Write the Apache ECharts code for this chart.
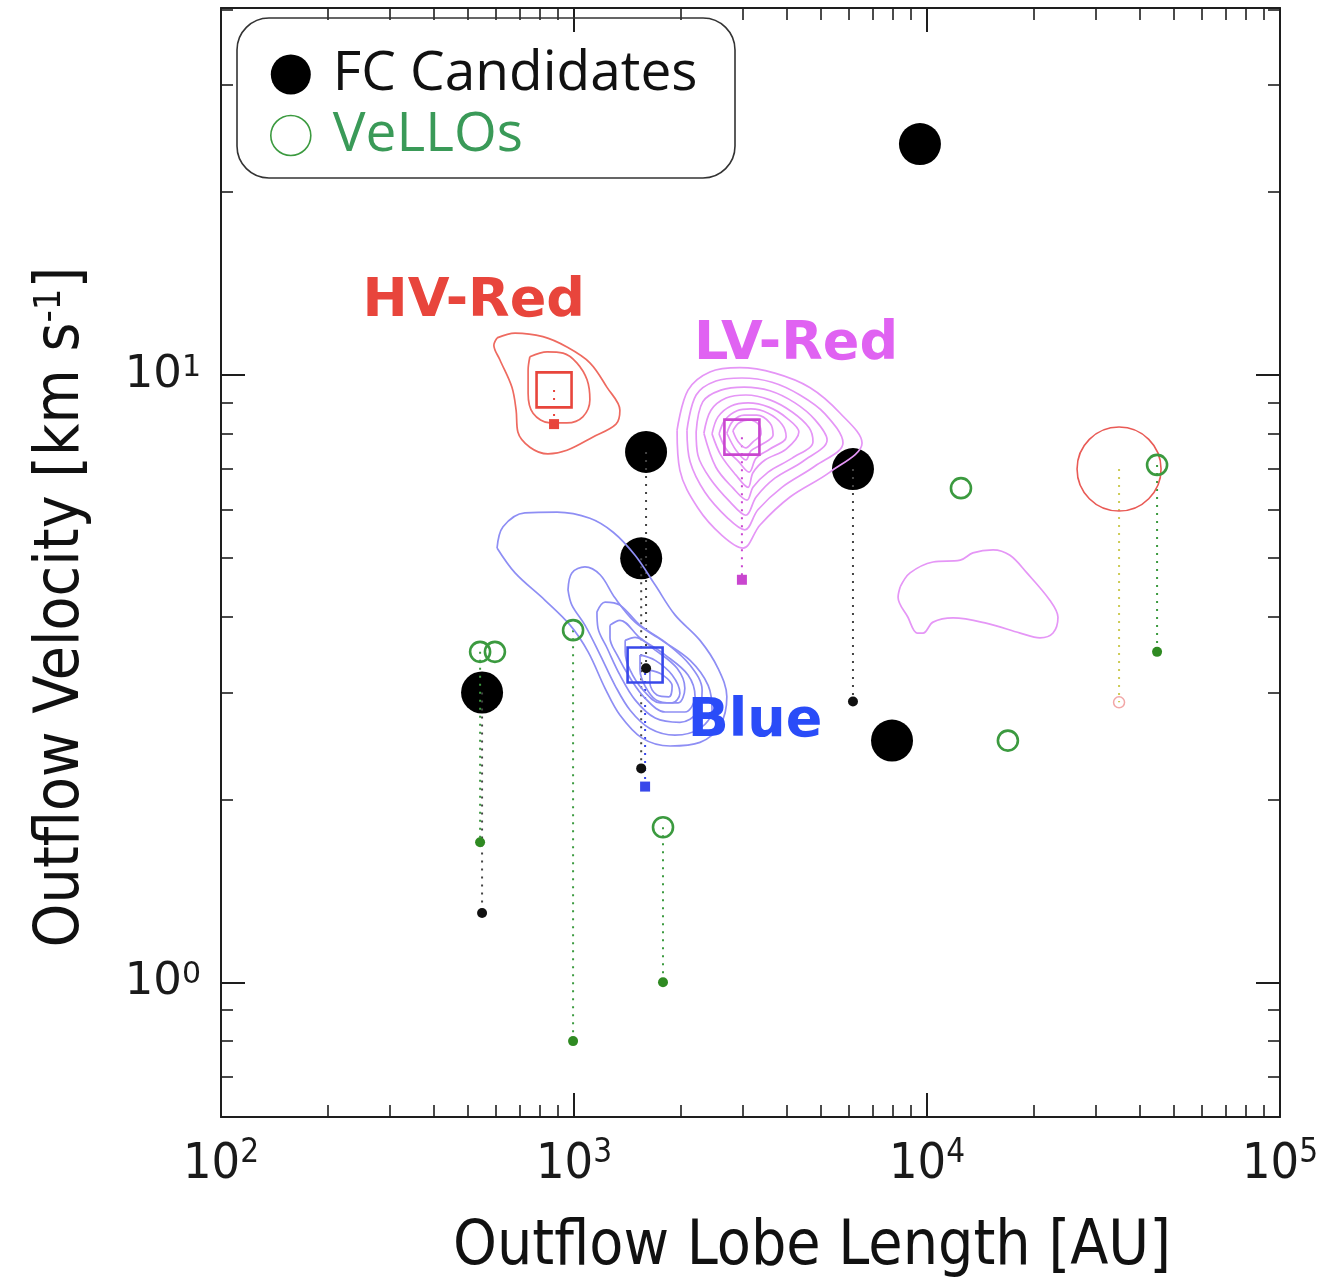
<!DOCTYPE html>
<html>
<head>
<meta charset="utf-8">
<script src="https://cdn.jsdelivr.net/npm/echarts@6/dist/echarts.min.js"></script>
<style>
html,body{margin:0;padding:0;background:#fff;}
#chart{width:1322px;height:1284px;}
</style>
</head>
<body>
<div id="chart"></div>
<script>
// ---------------- DATA ----------------
const xMajorTicks = [100, 1000, 10000, 100000];
const xMinorTicks = [200,300,400,500,600,700,800,900,2000,3000,4000,5000,6000,7000,8000,9000,20000,30000,40000,50000,60000,70000,80000,90000];
const yMajorTicks = [1, 10];
const yMinorTicks = [0.6,0.7,0.8,0.9,2,3,4,5,6,7,8,9,20,30,40];

// FC candidates (big filled black circles)
const fcAU  = [9550, 1600, 6170, 1550, 549, 7960];
const fcVel = [24.0, 7.47, 7.0, 4.99, 3.0, 2.5];
// FC drop lines (dotted black) and their lower values (small black dots)
const fcDropAU   = [549, 1600, 1550, 6170];
const fcDropFrom = [3.0, 7.47, 4.99, 7.0];
const fcDropTo   = [1.30, 3.29, 2.25, 2.90];

// VeLLOs (open green circles)
const vAU  = [542, 597, 994, 1787, 12480, 44850, 16950];
const vVel = [3.5, 3.5, 3.8, 1.8, 6.51, 7.11, 2.5];
// VeLLO drop lines (dotted green) and lower values (small green dots)
const vDropAU   = [542, 994, 1787, 44850];
const vDropFrom = [3.5, 3.8, 1.8, 7.11];
const vDropTo   = [1.70, 0.80, 1.0, 3.5];

// large red open circle with its drop to a small pink circle
const bigRedAU = [35000];
const bigRedVel = [7.0];
const bigRedLow = [2.89];

// outflow components (open squares) and their lower values (small squares)
const compNames = ['HV-Red', 'LV-Red', 'Blue'];
const compAU    = [878, 2990, 1590];
const compVel   = [9.45, 7.9, 3.33];
const compLow   = [8.3, 4.6, 2.10];
const compLabelAU  = [520, 4255, 3258];
const compLabelVel = [13.2, 11.2, 2.68];

// contours, as [log10(AU), log10(km/s)] pairs
const hvRedContoursLog = [
  [[2.782,1.061],[2.833,1.069],[2.912,1.063],[2.980,1.046],[3.045,1.020],[3.093,0.980],[3.130,0.942],[3.119,0.919],[3.054,0.898],[2.980,0.876],[2.926,0.870],[2.875,0.881],[2.841,0.906],[2.836,0.942],[2.824,0.980],[2.790,1.025],[2.773,1.049]],
  [[2.875,1.030],[2.924,1.038],[2.969,1.036],[3.008,1.020],[3.037,0.992],[3.045,0.959],[3.025,0.931],[2.980,0.921],[2.932,0.921],[2.884,0.937],[2.870,0.970],[2.870,1.008]]
];
const lvRedContoursLog = [
  [[3.292,0.909],[3.323,0.975],[3.385,1.005],[3.470,1.012],[3.569,1.003],[3.669,0.979],[3.754,0.937],[3.816,0.888],[3.725,0.840],[3.612,0.799],[3.527,0.753],[3.479,0.715],[3.419,0.736],[3.351,0.781],[3.300,0.843]],
  [[3.320,0.909],[3.346,0.967],[3.402,0.990],[3.476,0.995],[3.561,0.988],[3.640,0.967],[3.711,0.936],[3.762,0.888],[3.683,0.850],[3.589,0.815],[3.521,0.778],[3.484,0.745],[3.436,0.764],[3.371,0.807],[3.329,0.857]],
  [[3.346,0.906],[3.365,0.956],[3.416,0.975],[3.482,0.980],[3.555,0.974],[3.626,0.954],[3.683,0.926],[3.717,0.893],[3.649,0.858],[3.569,0.830],[3.516,0.799],[3.487,0.769],[3.442,0.791],[3.385,0.830],[3.351,0.868]],
  [[3.368,0.904],[3.388,0.942],[3.431,0.962],[3.487,0.967],[3.555,0.959],[3.618,0.939],[3.666,0.913],[3.677,0.890],[3.618,0.863],[3.550,0.840],[3.507,0.815],[3.490,0.794],[3.450,0.814],[3.402,0.848]],
  [[3.391,0.903],[3.408,0.931],[3.445,0.949],[3.493,0.954],[3.552,0.947],[3.603,0.929],[3.637,0.906],[3.601,0.878],[3.541,0.860],[3.507,0.839],[3.493,0.815],[3.459,0.835],[3.416,0.868]],
  [[3.411,0.903],[3.428,0.926],[3.462,0.941],[3.501,0.944],[3.550,0.937],[3.589,0.919],[3.601,0.898],[3.555,0.878],[3.516,0.863],[3.496,0.840],[3.465,0.858],[3.431,0.878]],
  [[3.433,0.904],[3.450,0.924],[3.482,0.934],[3.518,0.934],[3.555,0.921],[3.564,0.901],[3.530,0.885],[3.501,0.875],[3.487,0.860],[3.459,0.876]],
  [[3.450,0.908],[3.467,0.921],[3.496,0.926],[3.524,0.918],[3.530,0.903],[3.507,0.890],[3.487,0.880],[3.465,0.890]],
  [[3.924,0.651],[3.952,0.674],[4.017,0.692],[4.094,0.695],[4.130,0.707],[4.187,0.712],[4.235,0.703],[4.283,0.674],[4.348,0.629],[4.371,0.601],[4.357,0.575],[4.320,0.567],[4.264,0.575],[4.170,0.591],[4.074,0.600],[4.017,0.593],[3.989,0.575],[3.972,0.575],[3.946,0.601],[3.918,0.634]]
];
const blueContoursLog = [
  [[2.782,0.715],[2.799,0.750],[2.861,0.773],[2.952,0.774],[3.045,0.764],[3.111,0.741],[3.173,0.703],[3.230,0.654],[3.286,0.605],[3.357,0.563],[3.408,0.517],[3.433,0.470],[3.414,0.423],[3.357,0.395],[3.272,0.389],[3.193,0.402],[3.130,0.440],[3.088,0.484],[3.040,0.544],[2.989,0.588],[2.918,0.629],[2.833,0.674]],
  [[2.983,0.646],[2.994,0.674],[3.031,0.684],[3.074,0.671],[3.116,0.633],[3.173,0.593],[3.249,0.563],[3.329,0.530],[3.380,0.489],[3.391,0.448],[3.357,0.418],[3.286,0.407],[3.215,0.418],[3.159,0.448],[3.116,0.489],[3.074,0.539],[3.031,0.588],[2.994,0.621]],
  [[3.065,0.610],[3.088,0.626],[3.130,0.621],[3.187,0.588],[3.258,0.560],[3.329,0.522],[3.363,0.481],[3.351,0.445],[3.300,0.428],[3.230,0.435],[3.173,0.465],[3.130,0.506],[3.094,0.550],[3.068,0.583]],
  [[3.102,0.588],[3.130,0.596],[3.187,0.567],[3.258,0.539],[3.323,0.506],[3.343,0.470],[3.314,0.445],[3.258,0.445],[3.201,0.468],[3.159,0.501],[3.122,0.539],[3.102,0.567]],
  [[3.145,0.563],[3.173,0.568],[3.230,0.547],[3.292,0.517],[3.314,0.484],[3.295,0.460],[3.244,0.460],[3.196,0.481],[3.159,0.514],[3.145,0.544]],
  [[3.187,0.539],[3.230,0.530],[3.278,0.506],[3.300,0.476],[3.278,0.460],[3.232,0.465],[3.201,0.488],[3.187,0.514]],
  [[3.215,0.514],[3.249,0.507],[3.278,0.488],[3.269,0.470],[3.235,0.473],[3.215,0.493]]
];

// ---------------- STYLES ----------------
const C = {
  axis: '#1e1e1e',
  fc: '#000000',
  green: '#3b9a3f',
  greenText: '#3a9a58',
  greenDot: '#2f8a22',
  hvRed: '#e8453c',
  hvRedLine: '#ee6a60',
  lvRed: '#e062f2',
  lvRedLine: '#e596f6',
  lvSquare: '#c946cf',
  blue: '#2a4cf8',
  blueLine: '#8e8ef4',
  blueSquare: '#3848ea',
  bigRed: '#e95a55',
  pink: '#f2a7a7',
  yellow: '#cdcc55',
  dropBlack: '#444444'
};
const compColors = [C.hvRed, C.lvRed, C.blue];
const compSquareColors = [C.hvRed, C.lvSquare, C.blueSquare];
const compLineColors = [C.hvRed, C.lvSquare, C.blueSquare];

const DOT = [2, 6];
const series = [];

function toVal(p) { return [Math.pow(10, p[0]), Math.pow(10, p[1])]; }
function addContours(list, color, name) {
  list.forEach((c, i) => {
    const d = c.map(toVal);
    d.push(d[0]);
    series.push({
      type: 'line', name: name + i, data: d, symbol: 'none', smooth: 0.35,
      lineStyle: { color: color, width: 1.7, opacity: 1 }, z: 4, silent: true
    });
  });
}
function addDrop(name, x, y1, y2, color) {
  series.push({
    type: 'line', name: name, data: [[x, y1], [x, y2]], symbol: 'none',
    lineStyle: { color: color, width: 2, type: DOT, opacity: 1 }, z: 3, silent: true
  });
}

// FC big circles (under contours)
series.push({
  type: 'scatter', name: 'FC Candidates',
  data: fcAU.map((x, i) => [x, fcVel[i]]),
  symbol: 'circle', symbolSize: 42,
  itemStyle: { color: C.fc, opacity: 1 }, z: 2
});

// drop lines
fcDropAU.forEach((x, i) => addDrop('fcDrop' + i, x, fcDropFrom[i], fcDropTo[i], C.dropBlack));
vDropAU.forEach((x, i) => addDrop('vDrop' + i, x, vDropFrom[i], vDropTo[i], C.green));
bigRedAU.forEach((x, i) => addDrop('redDrop' + i, x, bigRedVel[i], bigRedLow[i], C.yellow));
compAU.forEach((x, i) => addDrop('compDrop' + i, x, compVel[i], compLow[i], compLineColors[i]));

// contours
addContours(hvRedContoursLog, C.hvRedLine, 'hvC');
addContours(lvRedContoursLog, C.lvRedLine, 'lvC');
addContours(blueContoursLog, C.blueLine, 'blC');

// lower-end markers
series.push({
  type: 'scatter', name: 'fcLow', data: fcDropAU.map((x, i) => [x, fcDropTo[i]]),
  symbol: 'circle', symbolSize: 10, itemStyle: { color: '#111', opacity: 1 }, z: 6
});
series.push({
  type: 'scatter', name: 'vLow', data: vDropAU.map((x, i) => [x, vDropTo[i]]),
  symbol: 'circle', symbolSize: 10, itemStyle: { color: C.greenDot, opacity: 1 }, z: 6
});
series.push({
  type: 'scatter', name: 'pinkLow', data: bigRedAU.map((x, i) => [x, bigRedLow[i]]),
  symbol: 'circle', symbolSize: 11, itemStyle: { color: 'rgba(0,0,0,0)', borderColor: C.pink, borderWidth: 1.5, opacity: 1 }, z: 6
});
compAU.forEach((x, i) => {
  series.push({
    type: 'scatter', name: 'compLow' + i, data: [[x, compLow[i]]],
    symbol: 'rect', symbolSize: 10, itemStyle: { color: compSquareColors[i], opacity: 1 }, z: 6
  });
  series.push({
    type: 'scatter', name: 'comp' + i, data: [[x, compVel[i]]],
    symbol: 'rect', symbolSize: 35,
    itemStyle: { color: 'rgba(0,0,0,0)', borderColor: compSquareColors[i], borderWidth: 2.6, opacity: 1 }, z: 7
  });
});

// big red open circle
series.push({
  type: 'scatter', name: 'bigRed', data: bigRedAU.map((x, i) => [x, bigRedVel[i]]),
  symbol: 'circle', symbolSize: 84,
  itemStyle: { color: 'rgba(0,0,0,0)', borderColor: C.bigRed, borderWidth: 1.6, opacity: 1 }, z: 5
});

// VeLLOs
series.push({
  type: 'scatter', name: 'VeLLOs', data: vAU.map((x, i) => [x, vVel[i]]),
  symbol: 'circle', symbolSize: 20,
  itemStyle: { color: 'rgba(255,255,255,0)', borderColor: C.green, borderWidth: 2.6, opacity: 1 }, z: 8
});

// component labels
series.push({
  type: 'scatter', name: 'compLabels',
  data: compLabelAU.map((x, i) => ({ value: [x, compLabelVel[i]], name: compNames[i],
    label: { color: compColors[i] } })),
  symbolSize: 0, z: 9, silent: true,
  itemStyle: { opacity: 1 },
  label: {
    show: true, position: 'inside', formatter: p => p.name, opacity: 1,
    fontFamily: 'DejaVu Sans', fontWeight: 'bold', fontSize: 54
  }
});

// ---------------- AXES ----------------
function xAx(pos, major, withLabels) {
  return {
    type: 'log', logBase: 10, min: 100, max: 100000, position: pos, gridIndex: 0,
    axisLine: { show: major, onZero: false, lineStyle: { color: C.axis, width: 2 } },
    axisTick: { show: true, inside: true, length: major ? 24 : 12,
      customValues: major ? xMajorTicks : xMinorTicks,
      lineStyle: { color: C.axis, width: major ? 2 : 1.6 } },
    axisLabel: withLabels ? {
      show: true, customValues: xMajorTicks, margin: 20,
      formatter: v => '{b|10}{s|' + Math.round(Math.log10(v)) + '}',
      rich: {
        b: { fontFamily: 'DejaVu Sans Condensed', fontSize: 50, lineHeight: 56, color: '#1a1a1a' },
        s: { fontFamily: 'DejaVu Sans Condensed', fontSize: 33, lineHeight: 8, verticalAlign: 'top', color: '#1a1a1a' }
      }
    } : { show: false },
    splitLine: { show: false }, minorTick: { show: false }, minorSplitLine: { show: false }
  };
}
function yAx(pos, major, withLabels) {
  return {
    type: 'log', logBase: 10, min: 0.6, max: 40.2, position: pos, gridIndex: 0,
    axisLine: { show: major, onZero: false, lineStyle: { color: C.axis, width: 2 } },
    axisTick: { show: true, inside: true, length: major ? 24 : 12,
      customValues: major ? yMajorTicks : yMinorTicks,
      lineStyle: { color: C.axis, width: major ? 2 : 1.6 } },
    axisLabel: withLabels ? {
      show: true, customValues: yMajorTicks, margin: 20,
      formatter: v => '{b|10}{s|' + Math.round(Math.log10(v)) + '}',
      rich: {
        b: { fontFamily: 'DejaVu Sans', fontSize: 45, lineHeight: 44, color: '#1a1a1a' },
        s: { fontFamily: 'DejaVu Sans', fontSize: 30, lineHeight: 12, verticalAlign: 'top', color: '#1a1a1a' }
      }
    } : { show: false },
    splitLine: { show: false }, minorTick: { show: false }, minorSplitLine: { show: false }
  };
}

const option = {
  animation: false,
  backgroundColor: '#ffffff',
  grid: { left: 221, top: 8, width: 1059, height: 1109, containLabel: false, outerBoundsMode: 'none' },
  xAxis: [xAx('bottom', true, true), xAx('bottom', false, false), xAx('top', true, false), xAx('top', false, false)],
  yAxis: [yAx('left', true, true), yAx('left', false, false), yAx('right', true, false), yAx('right', false, false)],
  legend: {
    orient: 'vertical', left: 265, top: 42, itemWidth: 40, itemHeight: 40, itemGap: 6,
    selectedMode: false, icon: 'circle',
    data: [
      { name: 'FC Candidates', textStyle: { color: '#111' }, itemStyle: { color: '#000' } },
      { name: 'VeLLOs', textStyle: { color: C.greenText },
        itemStyle: { color: 'rgba(255,255,255,0)', borderColor: C.green, borderWidth: 1.6 } }
    ],
    textStyle: { fontFamily: 'Open Sans', fontSize: 55, lineHeight: 40, padding: [0, 0, 0, 17] }
  },
  graphic: [
    { type: 'rect', shape: { x: 237, y: 18, width: 498, height: 160, r: 32 },
      style: { fill: 'rgba(0,0,0,0)', stroke: '#333', lineWidth: 1.6 }, z: 50, silent: true },
    { type: 'text', x: 812, y: 1248, silent: true,
      style: { text: 'Outflow Lobe Length [AU]', fontFamily: 'DejaVu Sans Condensed', fontSize: 62,
        fill: '#111', align: 'center', verticalAlign: 'middle', textAlign: 'center', textVerticalAlign: 'middle' } },
    { type: 'text', x: 62, y: 607, rotation: Math.PI / 2, silent: true,
      style: { text: 'Outflow Velocity [km s{s|-1}]', fontFamily: 'DejaVu Sans Condensed', fontSize: 62,
        fill: '#111', align: 'center', verticalAlign: 'middle', textAlign: 'center', textVerticalAlign: 'middle',
        rich: { s: { fontFamily: 'DejaVu Sans Condensed', fontSize: 38, lineHeight: 14, verticalAlign: 'top', fill: '#111' } } } }
  ],
  series: series
};

const chart = echarts.init(document.getElementById('chart'), null, { renderer: 'canvas' });
chart.setOption(option);
</script>
</body>
</html>
